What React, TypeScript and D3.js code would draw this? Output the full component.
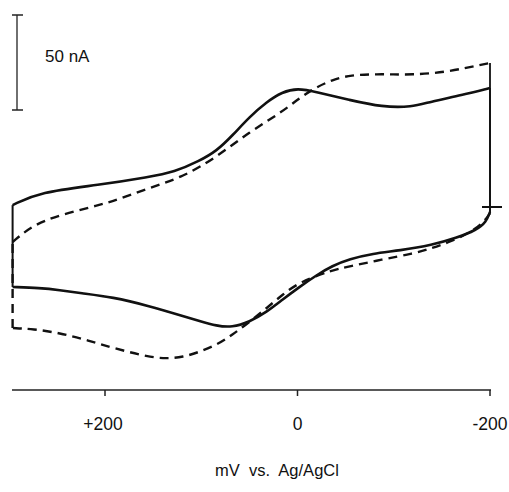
import React from 'react';
import * as d3 from 'd3';

const W = 509;
const H = 492;

// potential in mV, current in nA
const solidTopE = [296, 268, 206, 154, 128, 102, 84, 68, 50, 32, 16, 0, -20, -54, -88, -119, -137, -171, -200];
const solidTopI = [1.0, 7.9, 11.6, 15.8, 18.4, 24.2, 29.5, 37.4, 47.4, 55.3, 60.5, 62.6, 60.5, 56.3, 52.6, 52.6, 55.3, 58.9, 62.6];

const solidBotE = [-200, -196, -186, -165, -140, -106, -78, -54, -36, -20, -2, 16, 32, 50, 68, 84, 102, 119, 154, 192, 226, 247, 268, 296];
const solidBotI = [-2.6, -7.9, -12.1, -16.3, -20.0, -22.9, -24.5, -27.4, -31.0, -35.8, -42.1, -48.9, -55.3, -60.5, -63.4, -62.6, -60.0, -57.4, -52.1, -47.4, -45.3, -43.7, -42.6, -42.1];

const dashTopE = [296, 275, 247, 206, 188, 154, 119, 84, 50, 16, -2, -20, -36, -54, -88, -119, -155, -189, -200];
const dashTopI = [-18.4, -9.5, -4.2, 1.0, 3.7, 10.0, 15.8, 26.3, 39.5, 50.0, 57.4, 63.2, 66.8, 69.5, 70.0, 69.5, 71.0, 74.7, 75.8];

const dashBotE = [-200, -194, -179, -155, -140, -119, -88, -54, -36, -2, 16, 32, 50, 68, 84, 102, 119, 136, 154, 192, 219, 247, 275, 296];
const dashBotI = [-3.2, -7.9, -13.7, -19.0, -21.6, -24.7, -27.6, -31.3, -33.2, -39.5, -46.3, -53.2, -60.5, -67.4, -72.6, -76.3, -79.0, -79.8, -79.0, -74.2, -70.0, -66.3, -64.2, -63.7];

const xTicks = [200, 0, -200];
const xTickLabels = ['+200', '0', '-200'];
const scaleBarNA = 50;

const x = d3.scaleLinear().domain([200, -200]).range([105, 490]);
const y = d3.scaleLinear().domain([0, 50]).range([207, 112]);

const line = d3.line<[number, number]>()
  .x(d => x(d[0]))
  .y(d => y(d[1]))
  .curve(d3.curveBasis);

const zip = (e: number[], i: number[]) => e.map((v, k) => [v, i[k]] as [number, number]);

const FONT = '"Liberation Sans", Arial, Helvetica, sans-serif';

export default function App() {
  const sTop = zip(solidTopE, solidTopI);
  const sBot = zip(solidBotE, solidBotI);
  const dTop = zip(dashTopE, dashTopI);
  const dBot = zip(dashBotE, dashBotI);

  const eMax = solidTopE[0];
  const eMin = -200;
  const axisY = 390;
  const barX = 17;
  const barBottom = 110;
  const barTop = barBottom - (y(0) - y(scaleBarNA));

  return (
    <svg width={W} height={H} style={{ position: 'absolute', left: 0, top: 0, background: '#fff' }}
      fontFamily={FONT}>
      <rect width={W} height={H} fill="#fff" />

      {/* scale bar */}
      <line x1={barX} x2={barX} y1={barTop} y2={barBottom} stroke="#222" strokeWidth={1.3} />
      <line x1={barX - 5} x2={barX + 6} y1={barTop} y2={barTop} stroke="#222" strokeWidth={1.5} />
      <line x1={barX - 5} x2={barX + 6} y1={barBottom} y2={barBottom} stroke="#222" strokeWidth={1.5} />
      <text x={45} y={62} fontSize={17} fill="#111">50 nA</text>

      {/* dashed voltammogram */}
      <g fill="none" stroke="#111" strokeWidth={2.4} strokeDasharray="9,6">
        <path d={line(dTop) ?? ''} />
        <path d={line(dBot) ?? ''} />
        <line x1={x(eMax)} x2={x(eMax)} y1={y(dashBotI[dashBotI.length - 1])} y2={y(dashTopI[0])} />
        <line x1={x(eMin)} x2={x(eMin)} y1={y(dashTopI[dashTopI.length - 1])} y2={y(dashBotI[0])} strokeDasharray="none" strokeWidth={1.8} />
      </g>

      {/* solid voltammogram */}
      <g fill="none" stroke="#111" strokeWidth={2.6}>
        <path d={line(sTop) ?? ''} />
        <path d={line(sBot) ?? ''} />
        <line x1={x(eMax)} x2={x(eMax)} y1={y(solidBotI[solidBotI.length - 1])} y2={y(solidTopI[0])} strokeWidth={2} />
        <line x1={x(eMin)} x2={x(eMin)} y1={y(solidTopI[solidTopI.length - 1])} y2={y(solidBotI[0])} strokeWidth={1.8} />
      </g>

      {/* zero-current mark */}
      <line x1={x(eMin) - 8} x2={x(eMin) + 12} y1={y(0)} y2={y(0)} stroke="#111" strokeWidth={2} />

      {/* potential axis */}
      <line x1={12} x2={x(eMin) + 1} y1={axisY} y2={axisY} stroke="#222" strokeWidth={1.5} />
      {xTicks.map((t, k) => (
        <g key={t}>
          <line x1={x(t)} x2={x(t)} y1={axisY} y2={axisY + 6} stroke="#222" strokeWidth={1.5} />
          <text x={x(t) - (k === 0 ? 2 : 0)} y={430} fontSize={17.5} textAnchor="middle" fill="#111">
            {xTickLabels[k]}
          </text>
        </g>
      ))}
      <text x={277} y={476} fontSize={16.5} textAnchor="middle" fill="#111" style={{ whiteSpace: 'pre' }}>
        {'mV  vs.  Ag/AgCl'}
      </text>
    </svg>
  );
}
